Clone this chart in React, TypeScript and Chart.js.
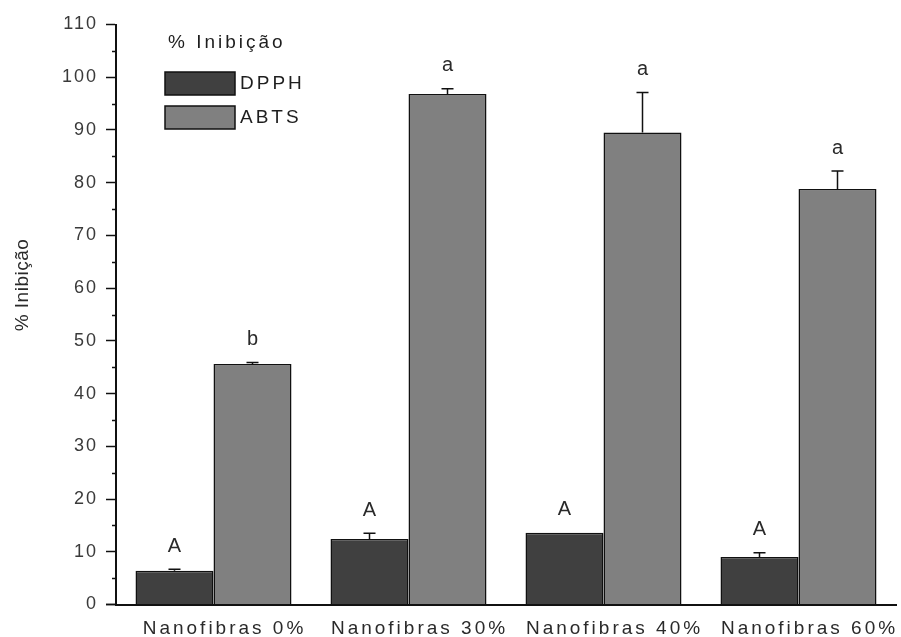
import { useEffect, useRef } from "react";
import { Chart, registerables } from "chart.js";

Chart.register(...registerables);

const FONT = '"Liberation Sans", Arial, Helvetica, sans-serif';

// Samples on the category axis
const categories = ["Nanofibras 0%", "Nanofibras 30%", "Nanofibras 40%", "Nanofibras 60%"];

// % inhibition (mean) and upper error per sample
const dpphValues = [6.4, 12.4, 13.6, 9.0];
const dpphErrors = [0.3, 1.1, 0, 0.8];
const abtsValues = [45.6, 96.8, 89.5, 78.8];
const abtsErrors = [0.3, 1.0, 7.6, 3.4];

// Significance letters above each bar
const dpphLetters = ["A", "A", "A", "A"];
const abtsLetters = ["b", "a", "a", "a"];

// Value axis range
const yMin = 0;
const yMax = 110;
const yStep = 10;

const seriesNames = ["DPPH", "ABTS"];
const seriesColors = ["#404040", "#808080"];
const legendTitle = "% Inibição";
const yTitle = "% Inibição";

// wrap a scale's label drawing so its text gets its own letter spacing
function spaceLabels(chart: any, scale: any, spacing: string) {
  if (!scale || scale.__spaced) return;
  const orig = scale.drawLabels.bind(scale);
  scale.drawLabels = (area: any) => {
    const prev = chart.ctx.letterSpacing;
    chart.ctx.letterSpacing = spacing;
    orig(area);
    chart.ctx.letterSpacing = prev;
  };
  scale.__spaced = true;
}

const decorations = {
  id: "decorations",
  afterUpdate(chart: any) {
    spaceLabels(chart, chart.scales.x, "3px");
    spaceLabels(chart, chart.scales.y, "2px");
  },
  afterDatasetsDraw(chart: any) {
    const ctx = chart.ctx;
    const y = chart.scales.y;
    ctx.save();
    chart.data.datasets.forEach((ds: any, di: number) => {
      const meta = chart.getDatasetMeta(di);
      meta.data.forEach((bar: any, i: number) => {
        const v = ds.data[i];
        const e = ds.errors[i];
        const base = y.getPixelForValue(v);
        const top = y.getPixelForValue(v + e);
        if (e > 0) {
          ctx.strokeStyle = "#111";
          ctx.lineWidth = 1.5;
          ctx.beginPath();
          ctx.moveTo(bar.x, base);
          ctx.lineTo(bar.x, top);
          ctx.moveTo(bar.x - 6, top);
          ctx.lineTo(bar.x + 6, top);
          ctx.stroke();
        }
        ctx.letterSpacing = "0px";
        ctx.font = `20px ${FONT}`;
        ctx.fillStyle = "#2a2a2a";
        ctx.textAlign = "center";
        ctx.textBaseline = "middle";
        ctx.fillText(ds.letters[i], bar.x, top - 23);
      });
    });
    ctx.restore();
  },
  afterDraw(chart: any) {
    const ctx = chart.ctx;
    const y = chart.scales.y;
    const area = chart.chartArea;
    ctx.save();

    // minor ticks between the labelled ones
    ctx.strokeStyle = "#111";
    ctx.lineWidth = 1.5;
    ctx.beginPath();
    for (let v = yMin + yStep / 2; v < yMax; v += yStep) {
      const py = Math.round(y.getPixelForValue(v)) + 0.5;
      ctx.moveTo(area.left, py);
      ctx.lineTo(area.left - 4, py);
    }
    // x axis runs a little past the y axis
    ctx.moveTo(area.left - 10, area.bottom);
    ctx.lineTo(area.left, area.bottom);
    ctx.stroke();

    // y axis title
    ctx.save();
    ctx.translate(23, 285);
    ctx.rotate(-Math.PI / 2);
    ctx.letterSpacing = "0.5px";
    ctx.font = `19px ${FONT}`;
    ctx.fillStyle = "#2a2a2a";
    ctx.textAlign = "center";
    ctx.textBaseline = "middle";
    ctx.fillText(yTitle, 0, 0);
    ctx.restore();

    // legend
    ctx.letterSpacing = "3px";
    ctx.font = `19px ${FONT}`;
    ctx.fillStyle = "#1e1e1e";
    ctx.textAlign = "left";
    ctx.textBaseline = "middle";
    ctx.fillText(legendTitle, 168, 43);
    seriesNames.forEach((name, i) => {
      const top = 72 + i * 34;
      ctx.fillStyle = seriesColors[i];
      ctx.fillRect(165, top, 70, 23);
      ctx.strokeStyle = "#111";
      ctx.lineWidth = 1.5;
      ctx.strokeRect(165, top, 70, 23);
      ctx.fillStyle = "#1e1e1e";
      ctx.fillText(name, 240, top + 12);
    });
    ctx.restore();
  },
};

export default function App() {
  const ref = useRef<HTMLCanvasElement | null>(null);

  useEffect(() => {
    if (!ref.current) return;
    const chart = new Chart(ref.current, {
      type: "bar",
      data: {
        labels: categories,
        datasets: [
          {
            label: seriesNames[0],
            data: dpphValues,
            errors: dpphErrors,
            letters: dpphLetters,
            backgroundColor: seriesColors[0],
            borderColor: "#111",
            borderWidth: 1.5,
            categoryPercentage: 0.8,
            barPercentage: 1.0,
          } as any,
          {
            label: seriesNames[1],
            data: abtsValues,
            errors: abtsErrors,
            letters: abtsLetters,
            backgroundColor: seriesColors[1],
            borderColor: "#111",
            borderWidth: 1.5,
            categoryPercentage: 0.8,
            barPercentage: 1.0,
          } as any,
        ],
      },
      options: {
        responsive: false,
        animation: false,
        layout: { padding: { top: 24.5, right: 5, left: 0, bottom: 0 } },
        plugins: {
          legend: { display: false },
          tooltip: { enabled: false },
        },
        scales: {
          x: {
            grid: { display: false },
            border: { display: true, color: "#111", width: 2 },
            ticks: {
              color: "#2a2a2a",
              font: { family: FONT, size: 19 },
              padding: 5,
              labelOffset: 11,
              maxRotation: 0,
              autoSkip: false,
            },
            afterFit(scale: any) {
              scale.height = 32.5;
            },
          },
          y: {
            min: yMin,
            max: yMax,
            grid: {
              display: true,
              drawOnChartArea: false,
              drawTicks: true,
              tickLength: 10,
              tickWidth: 1.5,
              tickColor: "#111",
            },
            border: { display: true, color: "#111", width: 2 },
            ticks: {
              stepSize: yStep,
              color: "#3a3a3a",
              font: { family: FONT, size: 18 },
              padding: 8,
            },
            afterFit(scale: any) {
              scale.width = 116;
            },
          },
        },
      } as any,
      plugins: [decorations],
    });
    return () => chart.destroy();
  }, []);

  return (
    <canvas
      ref={ref}
      width={901}
      height={637}
      style={{ position: "absolute", left: 0, top: 0, width: 901, height: 637 }}
    />
  );
}
